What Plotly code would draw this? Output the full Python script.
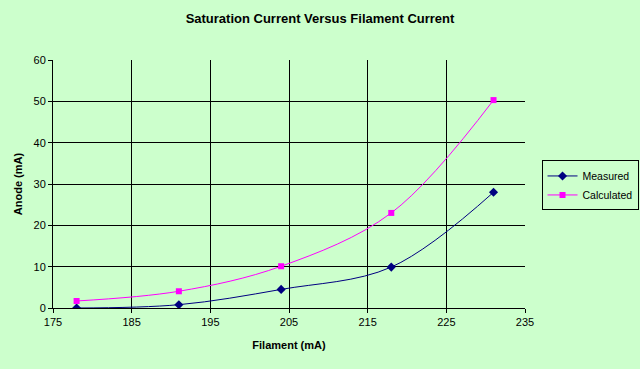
import plotly.graph_objects as go

filament = [178, 191, 204, 218, 231]
measured = [0.0, 0.8, 4.5, 9.9, 28.0]
calculated = [1.7, 4.05, 10.1, 23.0, 50.3]

bg = "#CCFFCC"
fnt = "Liberation Sans, Arial, sans-serif"

fig = go.Figure()
fig.add_trace(go.Scatter(x=filament, y=measured, name="Measured", mode="lines+markers",
                         line=dict(color="#000080", width=1, shape="spline", smoothing=1),
                         marker=dict(symbol="diamond", size=7, color="#000080")))
fig.add_trace(go.Scatter(x=filament, y=calculated, name="Calculated", mode="lines+markers",
                         line=dict(color="#FF00FF", width=1, shape="spline", smoothing=1),
                         marker=dict(symbol="square", size=6, color="#FF00FF")))

fig.update_layout(
    width=640, height=369,
    paper_bgcolor=bg, plot_bgcolor=bg,
    margin=dict(l=53, r=115, t=60, b=61, autoexpand=False),
    font=dict(family=fnt, size=11, color="black"),
    title=dict(text="<b>Saturation Current Versus Filament Current</b>", x=0.5, xanchor="center",
               y=0.95, yanchor="middle", font=dict(size=13, family=fnt, color="black")),
    showlegend=True,
    legend=dict(x=1.035, y=0.595, xanchor="left", yanchor="top", bgcolor=bg,
                bordercolor="black", borderwidth=1, font=dict(size=10.5, family=fnt),
                itemwidth=30, tracegroupgap=0),
    xaxis=dict(range=[175, 235], tick0=175, dtick=10, showgrid=True, gridcolor="black", gridwidth=1,
               showline=True, linecolor="black", linewidth=1, ticks="outside", ticklen=4,
               tickcolor="black", zeroline=False, automargin=False,
               title=dict(text="<b>Filament (mA)</b>", font=dict(size=11, family=fnt), standoff=14)),
    yaxis=dict(range=[0, 60], dtick=10, showgrid=True, gridcolor="black", gridwidth=1,
               showline=True, linecolor="black", linewidth=1, ticks="outside", ticklen=4,
               tickcolor="black", zeroline=False, automargin=False,
               title=dict(text="<b>Anode (mA)</b>", font=dict(size=11, family=fnt), standoff=8)),
)

fig.write_html("out.html", config={"displayModeBar": False},
               post_script="document.body.style.margin='0';document.body.style.background='#CCFFCC';")
